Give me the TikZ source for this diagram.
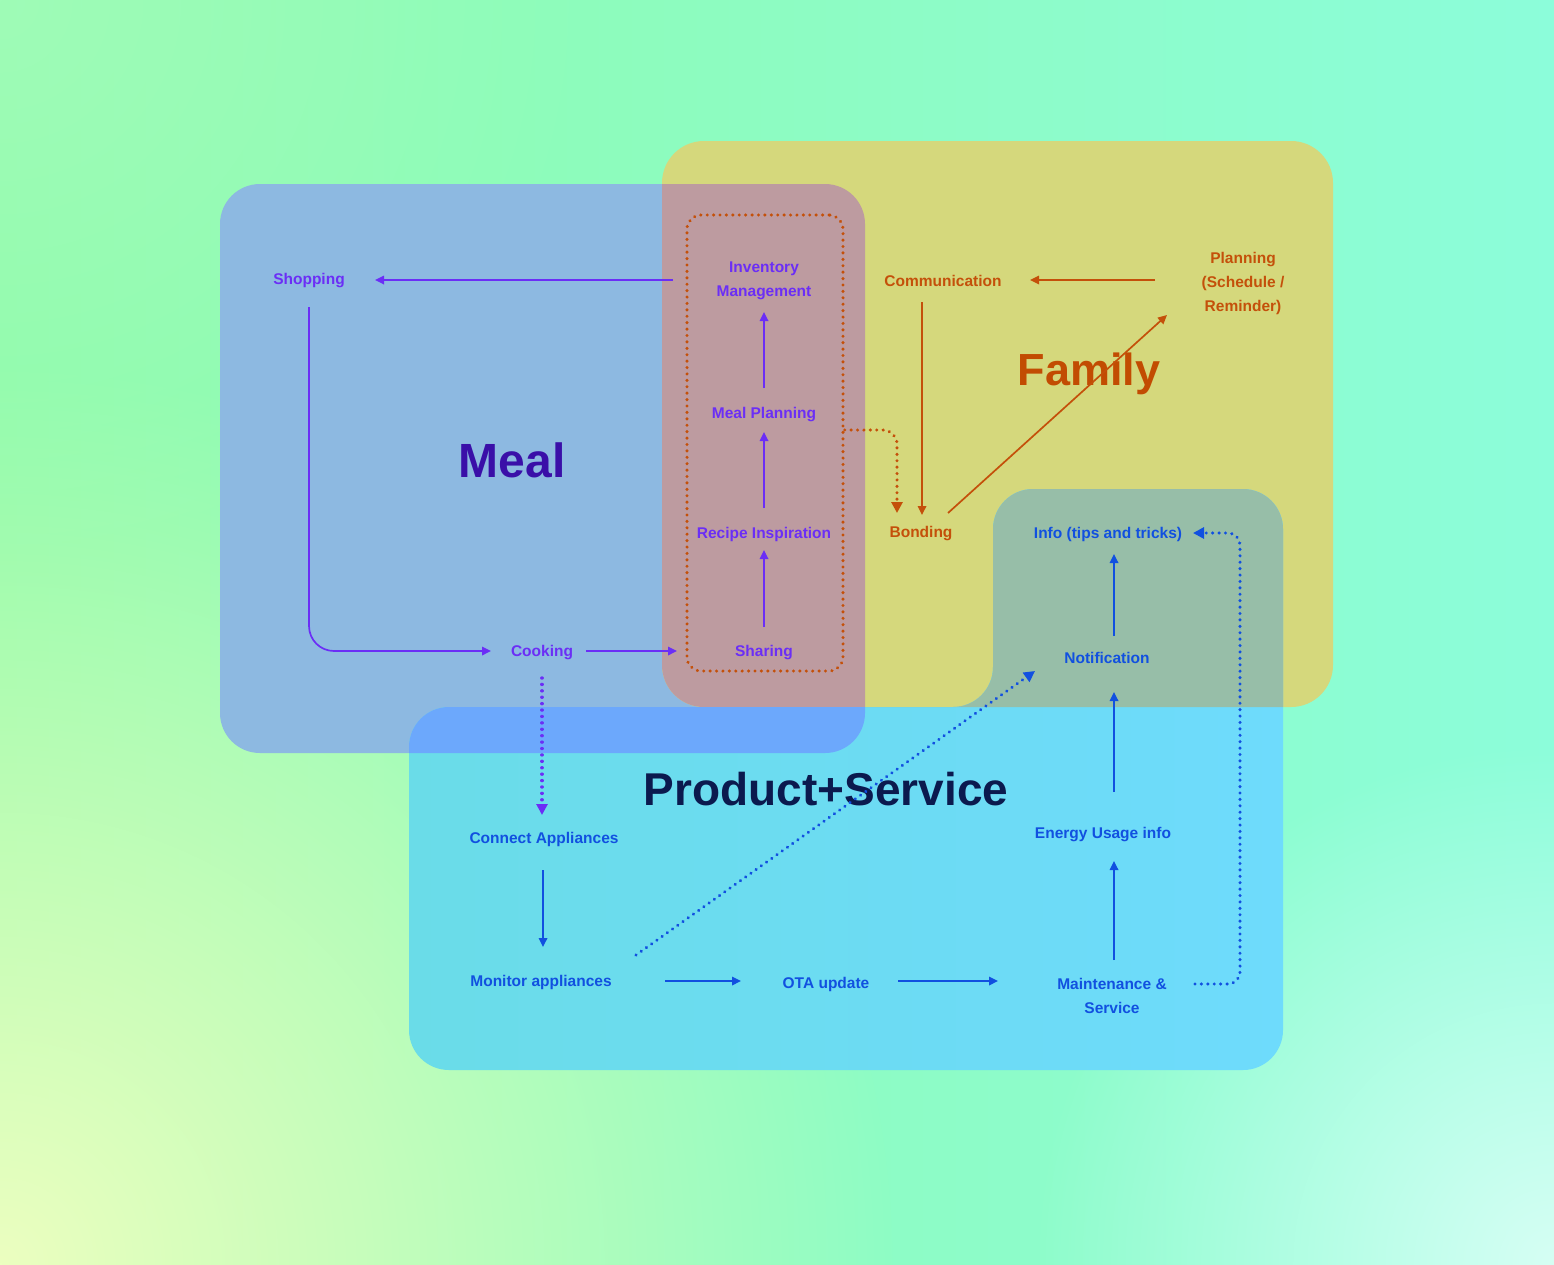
\documentclass[tikz,border=0pt]{standalone}
\usepackage{fontspec}
\setmainfont{Liberation Sans}
\usetikzlibrary{arrows.meta,calc,fadings}
\definecolor{bgL}{HTML}{8EFBAA}
\definecolor{bgR}{HTML}{8CFDDA}
\definecolor{bgY}{HTML}{ECFFC0}
\definecolor{bgW}{HTML}{D6FFF4}
\definecolor{mealc}{HTML}{8DB9E1}
\definecolor{famc}{HTML}{D5D87C}
\definecolor{mealfam}{HTML}{BD9BA0}
\definecolor{prodL}{HTML}{6ADCE8}
\definecolor{prodR}{HTML}{6EDBFC}
\definecolor{prodfam}{HTML}{97BEA8}
\definecolor{prodmeal}{HTML}{6CA8FC}
\definecolor{mtxt}{HTML}{6B2EF6}
\definecolor{ftxt}{HTML}{C4500A}
\definecolor{ptxt}{HTML}{1150E0}
\definecolor{mtitle}{HTML}{3A0FA8}
\definecolor{ftitle}{HTML}{C24C02}
\definecolor{ptitle}{HTML}{0B1A4E}
\tikzfading[name=glow, inner color=transparent!0, outer color=transparent!100]
\begin{document}
\begin{tikzpicture}[x=1pt,y=-1pt,
  lbl/.style={font=\bfseries\fontsize{15.5}{24}\selectfont, align=center, inner sep=0pt, yshift=-2pt},
  ml/.style={lbl, text=mtxt},
  fl/.style={lbl, text=ftxt},
  pl/.style={lbl, text=ptxt},
  ttl/.style={font=\bfseries\fontsize{#1}{#1}\selectfont, inner sep=0pt},
  arr/.style={line width=1.7pt, -{Triangle[length=9pt,width=8.5pt]}},
  dots/.style={line width=3.4pt, line cap=round, dash pattern=on 0.01pt off 6.4pt},
  darr/.style={dots, -{Triangle[length=11pt,width=11pt]}},
  mealpath/.style={insert path={(220,184) rectangle (865,753)}},
  fampath/.style={insert path={(662,141) rectangle (1333,707)}},
  prodpath/.style={insert path={(409,900) -- (409,707) -- (993,707) -- (993,489) -- (1283,489) -- (1283,1070) -- (409,1070) -- cycle}}
]
\useasboundingbox (0,0) rectangle (1554,1264);
% background
\shade[left color=bgL, right color=bgR] (0,0) rectangle (1554,1264);
\begin{scope}
\clip (0,0) rectangle (1554,1264);
\fill[bgY, path fading=glow] (0,1264) circle (900pt);
\fill[bgW, path fading=glow] (1554,1264) circle (520pt);
\fill[bgL!70!white, path fading=glow, opacity=0.5] (0,0) circle (600pt);
\end{scope}
% regions
\fill[mealc, rounded corners=40pt, mealpath];
\fill[famc, rounded corners=42pt, fampath];
\begin{scope}
\clip[rounded corners=42pt, fampath];
\fill[mealfam, rounded corners=40pt, mealpath];
\end{scope}
\shade[left color=prodL, right color=prodR, rounded corners=40pt, prodpath];
\begin{scope}
\clip[rounded corners=42pt, fampath];
\fill[prodfam, rounded corners=40pt, prodpath];
\end{scope}
\begin{scope}
\clip[rounded corners=40pt, mealpath];
\fill[prodmeal, rounded corners=40pt, prodpath];
\end{scope}
% titles
\node[ttl=48, text=mtitle] (mealt) at (512,460) {Meal};
\node[ttl=45, text=ftitle] (famt) at (1089,374) {Family};
\node[ttl=46, text=ptitle] (prodt) at (826,789) {Product+Service};
% group box
\node[draw=ftxt, dots, rounded corners=14pt, minimum width=156pt, minimum height=456pt, inner sep=0pt] (grp) at (765,443) {};
% labels
\node[ml] (shop) at (309,279) {Shopping};
\node[ml] (inv) at (764,279) {Inventory\\Management};
\node[ml] (mp) at (764,413) {Meal Planning};
\node[ml] (ri) at (764,532) {Recipe Inspiration};
\node[ml] (sh) at (764,651) {Sharing};
\node[ml] (cook) at (542,651) {Cooking};
\node[fl] (comm) at (943,279) {Communication};
\node[fl] (plan) at (1243,281) {Planning\\(Schedule /\\Reminder)};
\node[fl] (bond) at (921,532) {Bonding};
\node[pl] (info) at (1108,532) {Info (tips and tricks)};
\node[pl] (notif) at (1107,656) {Notification};
\node[pl] (energy) at (1103,833) {Energy Usage info};
\node[pl] (maint) at (1112,994) {Maintenance \&\\Service};
\node[pl] (ota) at (826,982) {OTA update};
\node[pl] (mon) at (541,980) {Monitor appliances};
\node[pl] (conn) at (544,837) {Connect Appliances};
% meal connectors (offsets from node centres)
\draw[arr, mtxt] ($(inv.center)+(-91,-1)$) -- ($(shop.center)+(66,-1)$);
\draw[arr, mtxt, rounded corners=25pt] ($(shop.center)+(0,26)$) |- ($(cook.center)+(-51,-2)$);
\draw[arr, mtxt] ($(cook.center)+(44,-2)$) -- ($(sh.center)+(-87,-2)$);
\draw[arr, mtxt] ($(sh.center)+(0,-26)$) -- ($(ri.center)+(0,16)$);
\draw[arr, mtxt] ($(ri.center)+(0,-26)$) -- ($(mp.center)+(0,17)$);
\draw[arr, mtxt] ($(mp.center)+(0,-27)$) -- ($(inv.center)+(0,31)$);
\draw[darr, mtxt] ($(cook.center)+(0,25)$) -- ($(conn.center)+(-2,-24)$);
% family connectors
\draw[darr, ftxt, rounded corners=14pt] ($(grp.east)+(0,-13)$) -| ($(bond.center)+(-24,-21)$);
\draw[arr, ftxt] ($(comm.center)+(-21,21)$) -- ($(bond.center)+(1,-19)$);
\draw[arr, ftxt] ($(plan.center)+(-88,-3)$) -- ($(comm.center)+(87,-1)$);
\draw[arr, ftxt] ($(bond.center)+(27,-21)$) -- ($(plan.center)+(-76,32)$);
% product connectors
\draw[arr, ptxt] ($(conn.center)+(-1,31)$) -- ($(mon.center)+(2,-35)$);
\draw[arr, ptxt] ($(mon.center)+(124,-1)$) -- ($(ota.center)+(-85,-3)$);
\draw[arr, ptxt] ($(ota.center)+(72,-3)$) -- ($(maint.center)+(-114,-15)$);
\draw[arr, ptxt] ($(maint.center)+(2,-36)$) -- ($(energy.center)+(11,26)$);
\draw[arr, ptxt] ($(energy.center)+(11,-43)$) -- ($(notif.center)+(7,34)$);
\draw[arr, ptxt] ($(notif.center)+(7,-22)$) -- ($(info.center)+(6,20)$);
\draw[darr, ptxt] ($(mon.center)+(95,-27)$) -- ($(notif.center)+(-72,13)$);
\draw[darr, ptxt, rounded corners=12pt] ($(maint.center)+(83,-12)$) -| ($(info.center)+(132,-1)$) -- ($(info.center)+(85,-1)$);
\end{tikzpicture}
\end{document}
